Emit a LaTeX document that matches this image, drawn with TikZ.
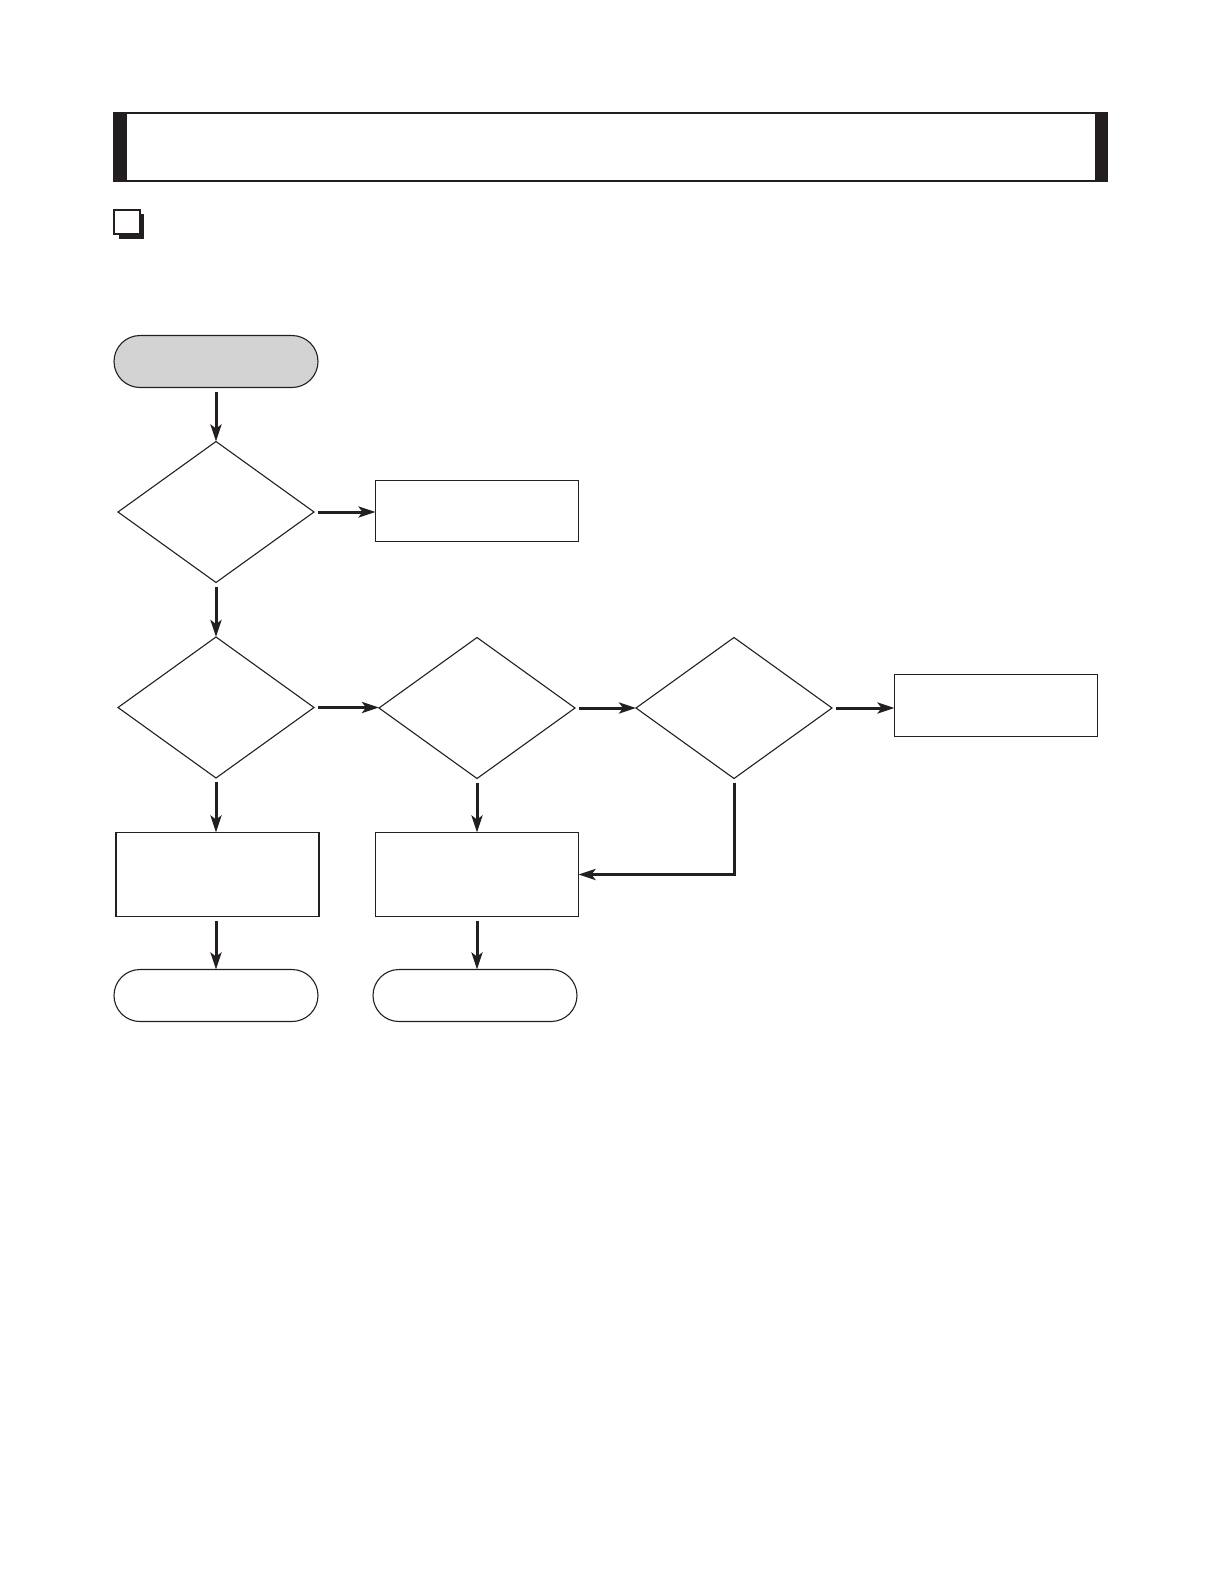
\documentclass[tikz,border=0pt]{standalone}
\usetikzlibrary{shapes.geometric,arrows.meta}
\definecolor{ink}{HTML}{231F20}
\definecolor{startgray}{HTML}{D3D3D3}
\tikzset{
  decision/.style={diamond,draw=ink,line width=1.1pt,minimum width=196pt,minimum height=141pt,inner sep=0pt,outer sep=0pt},
  procbox/.style={rectangle,draw=ink,line width=1.8pt,minimum width=203pt,inner sep=0pt,outer sep=0pt},
  terminal/.style={rectangle,draw=ink,line width=1.1pt,rounded corners=26pt,minimum width=204pt,minimum height=52pt,inner sep=0pt,outer sep=0pt},
  flow/.style={draw=ink,line width=3pt,-{Stealth[length=17pt,width=11pt,inset=4pt]},shorten <=4pt}
}
\begin{document}
\begin{tikzpicture}[x=1pt,y=-1pt]
\useasboundingbox (0,0) rectangle (1219,1587);
% header bar
\draw[ink,line width=2pt] (114,113) rectangle (1107,181);
\fill[ink] (114,112) rectangle (127,182);
\fill[ink] (1095,112) rectangle (1108,182);
% check box
\fill[ink] (119,214) rectangle (144,239);
\draw[ink,line width=1.2pt,fill=white] (114,210) rectangle (140,234);
% nodes
\node[terminal,fill=startgray] (start) at (216,361.5) {};
\node[decision] (d1) at (216,512) {};
\node[procbox,minimum height=61pt] (a) at (477,511) {};
\node[decision] (d2) at (216,707.5) {};
\node[decision] (d3) at (477,708) {};
\node[decision] (d4) at (734,708) {};
\node[procbox,minimum height=62pt] (b) at (996,705.5) {};
\node[procbox,minimum height=84pt] (c) at (217.5,874.5) {};
\node[procbox,minimum height=84pt] (d) at (477,874.5) {};
\node[terminal] (e1) at (216,995.5) {};
\node[terminal] (e2) at (475,995.5) {};
% connectors
\draw[flow] (start.south) -- (d1.north);
\draw[flow] (d1.east) -- (d1.east -| a.west);
\draw[flow] (d1.south) -- (d2.north);
\draw[flow] (d2.east) -- (d2.east -| d3.west);
\draw[flow] (d3.east) -- (d4.west);
\draw[flow] (d4.east) -- (d4.east -| b.west);
\draw[flow] (d2.south) -- (d2.south |- c.north);
\draw[flow] (d3.south) -- (d3.south |- d.north);
\draw[flow] (c.south -| d2.south) -- (d2.south |- e1.north);
\draw[flow] (d.south -| d3.south) -- (d3.south |- e2.north);
\draw[flow] (d4.south) -- (d4.south |- d.east) -- (d.east);
\end{tikzpicture}
\end{document}
